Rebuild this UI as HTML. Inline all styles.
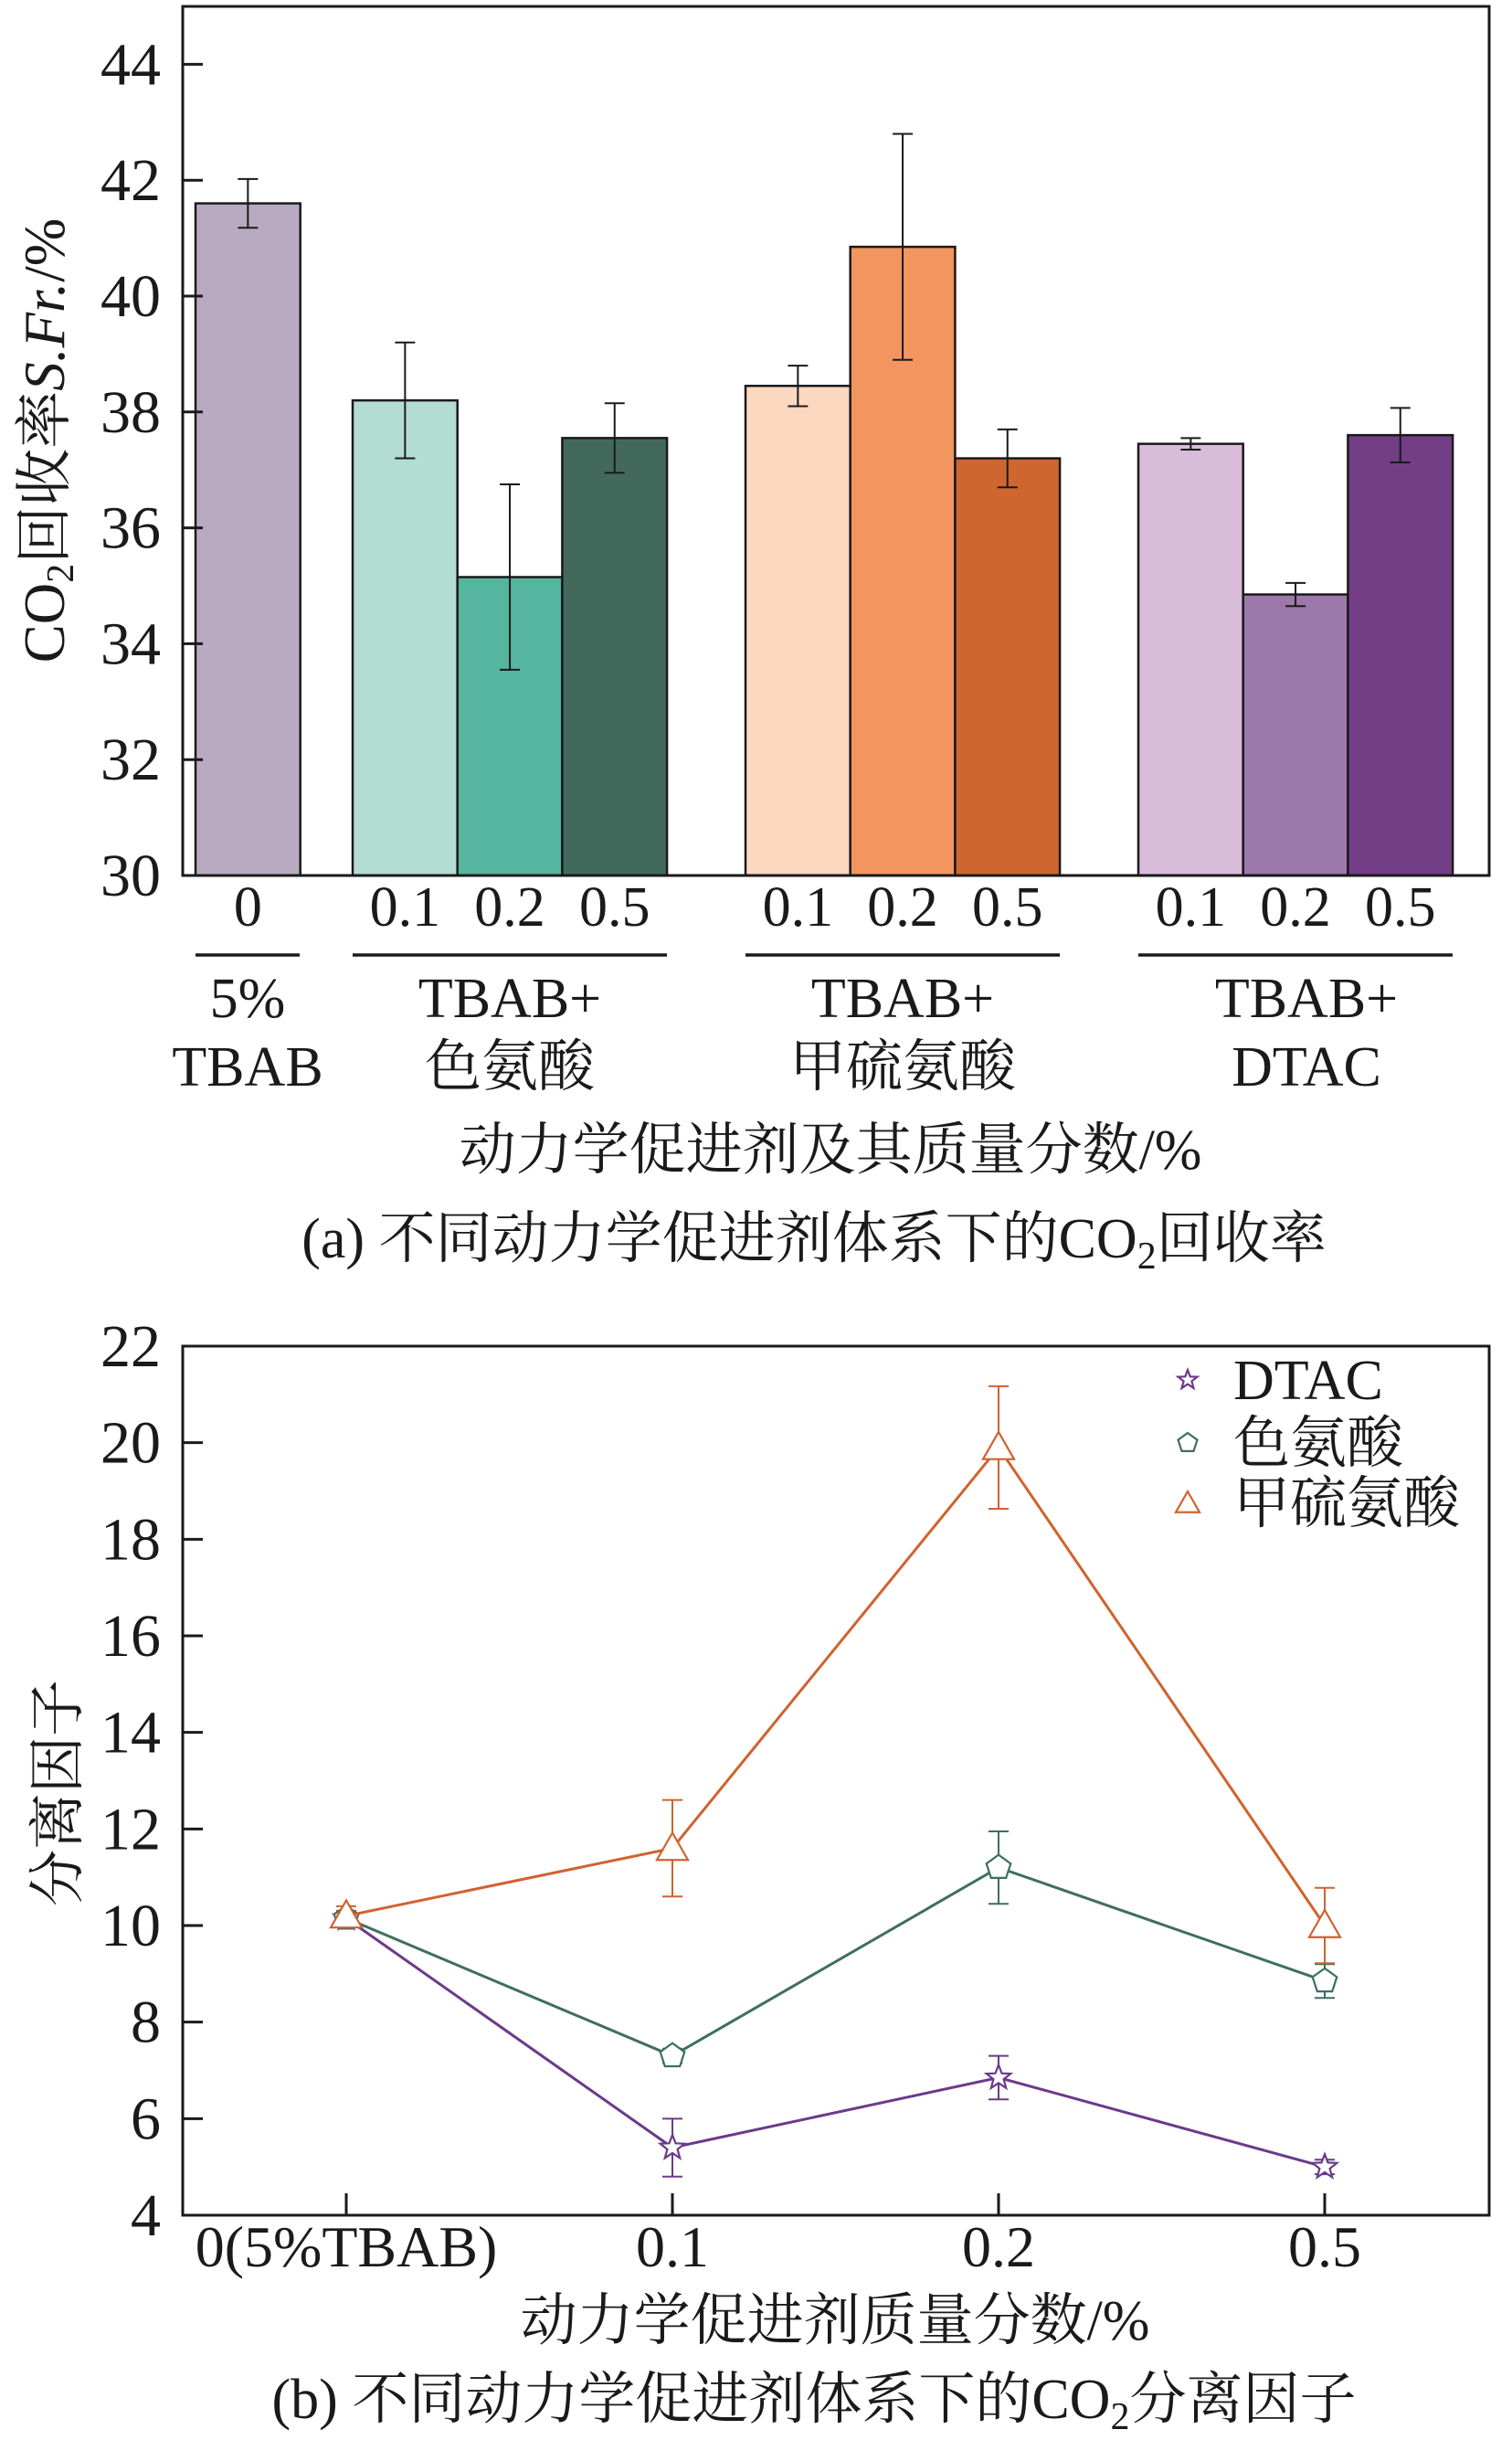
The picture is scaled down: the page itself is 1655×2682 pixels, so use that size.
<!DOCTYPE html>
<html><head><meta charset="utf-8"><style>
html,body{margin:0;padding:0;background:#fff}
svg{display:block}
text{font-family:"Liberation Serif","Noto Serif CJK SC","Noto Sans CJK SC",serif;fill:#1a1a1a}
</style></head><body>
<svg id="fig" width="1655" height="2682" viewBox="0 0 1655 2682" xmlns="http://www.w3.org/2000/svg">
<g id="chartA"></g>
<g id="chartB"></g>
</svg>
<script>
// ---- Chart (a) data ----
const barLabels = ["0","0.1","0.2","0.5","0.1","0.2","0.5","0.1","0.2","0.5"];
const barValues = [41.6,38.2,35.15,37.55,38.45,40.85,37.2,37.45,34.85,37.6];
const barErrors = [0.42,1.0,1.6,0.6,0.35,1.95,0.5,0.1,0.2,0.47];
const barColors = ["#b8abc1","#b3dcd2","#55b59f","#43695d","#fdd8c0","#f2955f","#cf6630","#d8bcd9","#9d78ab","#733e86"];
const aTicks = [30,32,34,36,38,40,42,44];
// ---- Chart (b) data ----
const bCats = ["0(5%TBAB)","0.1","0.2","0.5"];
const dtacVals = [10.15,5.4,6.85,5.0];
const dtacErr = [0.15,0.6,0.45,0.15];
const trpVals = [10.15,7.3,11.2,8.85];
const trpErr = [0.15,0.15,0.75,0.35];
const sulVals = [10.2,11.6,19.9,10.0];
const sulErr = [0.2,1.0,1.27,0.78];
const bTicks = [4,6,8,10,12,14,16,18,20,22];

const NS="http://www.w3.org/2000/svg";
function mk(parent,tag,attrs,txt){const e=document.createElementNS(NS,tag);for(const k in attrs)e.setAttribute(k,attrs[k]);if(txt!==undefined)e.textContent=txt;parent.appendChild(e);return e;}

// ===== Chart A =====
const A=document.getElementById('chartA');
const aL=200,aR=1630,aT=7,aB=958,aMin=30,aMax=45;
const ay=v=>aB-(v-aMin)/(aMax-aMin)*(aB-aT);
const barW=114.7;
const barX=[214,386,500.7,615.4,816,930.7,1045.4,1246,1360.7,1475.4];
barValues.forEach((v,i)=>{
  const r=mk(A,'rect',{x:barX[i],y:ay(v),width:barW,height:aB-ay(v),fill:barColors[i],stroke:'#1a1a1a','stroke-width':2.5});
  
  
  const cx=barX[i]+barW/2,e=barErrors[i];
  const eb=mk(A,'path',{d:`M${cx},${ay(v+e)}V${ay(v-e)}M${cx-11},${ay(v+e)}h22M${cx-11},${ay(v-e)}h22`,stroke:'#1a1a1a','stroke-width':2,fill:'none'});
  
  
  const t=mk(A,'text',{x:cx,y:1013,'font-size':62,'text-anchor':'middle'},barLabels[i]);
  
  
});
mk(A,'rect',{x:aL,y:aT,width:aR-aL,height:aB-aT,fill:'none',stroke:'#1a1a1a','stroke-width':3,});
aTicks.forEach(v=>{
  mk(A,'line',{x1:aL,x2:aL+22,y1:ay(v),y2:ay(v),stroke:'#1a1a1a','stroke-width':3});
  const t=mk(A,'text',{x:176,y:ay(v)+22,'font-size':66,'text-anchor':'end'},v);
  
  
});
const groups=[[214,328,["5%","TBAB"]],[386,730,["TBAB+","色氨酸"]],[816,1160,["TBAB+","甲硫氨酸"]],[1246,1590,["TBAB+","DTAC"]]];
groups.forEach((g,i)=>{
  mk(A,'line',{x1:g[0],x2:g[1],y1:1045,y2:1045,stroke:'#1a1a1a','stroke-width':3.5,});
  const cx=(g[0]+g[1])/2+(i==3?12:0);
  mk(A,'text',{x:cx,y:1113,'font-size':62,'text-anchor':'middle',},g[2][0]);
  mk(A,'text',{x:cx,y:1188,'font-size':62,'text-anchor':'middle',},g[2][1]);
});
mk(A,'text',{x:909,y:1279,'font-size':62,'text-anchor':'middle',},'动力学促进剂及其质量分数/%');
const capA=mk(A,'text',{x:891,y:1376,'font-size':62,'text-anchor':'middle',});
capA.innerHTML='(a) 不同动力学促进剂体系下的CO<tspan font-size="42" dy="12">2</tspan><tspan dy="-12">回收率</tspan>';
const yA=mk(A,'text',{transform:'translate(70,482) rotate(-90)','font-size':63,'text-anchor':'middle',});
yA.innerHTML='CO<tspan font-size="42" dy="10">2</tspan><tspan dy="-10">回收率</tspan><tspan font-style="italic">S.Fr.</tspan>/%';

// ===== Chart B =====
const B=document.getElementById('chartB');
const bL=200,bR=1630,bT=1473,bB=2424,bMin=4,bMax=22;
const by=v=>bB-(v-bMin)/(bMax-bMin)*(bB-bT);
const bxPos=[379,736,1093,1450];
const bx=i=>bxPos[i];
mk(B,'rect',{x:bL,y:bT,width:bR-bL,height:bB-bT,fill:'none',stroke:'#1a1a1a','stroke-width':3,});
bTicks.forEach(v=>{
  mk(B,'line',{x1:bL,x2:bL+22,y1:by(v),y2:by(v),stroke:'#1a1a1a','stroke-width':3});
  const t=mk(B,'text',{x:176,y:by(v)+22,'font-size':66,'text-anchor':'end'},v);
  
  
});
bCats.forEach((c,i)=>{
  mk(B,'line',{x1:bx(i),x2:bx(i),y1:bB,y2:bB-24,stroke:'#1a1a1a','stroke-width':3});
  const t=mk(B,'text',{x:bx(i),y:2480,'font-size':64,'text-anchor':'middle'},c);
  
  
});
function marker(g,kind,x,y,col,s){
  if(kind==='star'){let p='';for(let k=0;k<10;k++){const r=k%2?s*0.42:s;const a=-Math.PI/2+k*Math.PI/5;p+=(k?'L':'M')+(x+r*Math.cos(a)).toFixed(1)+','+(y+r*Math.sin(a)).toFixed(1);}return mk(g,'path',{d:p+'Z',fill:'#fff',stroke:col,'stroke-width':2.2});}
  if(kind==='pent'){let p='';for(let k=0;k<5;k++){const a=-Math.PI/2+k*2*Math.PI/5;p+=(k?'L':'M')+(x+s*Math.cos(a)).toFixed(1)+','+(y+s*Math.sin(a)).toFixed(1);}return mk(g,'path',{d:p+'Z',fill:'#fff',stroke:col,'stroke-width':2.2});}
  return mk(g,'path',{d:`M${x},${y-s}L${x+s*1.0},${y+s*0.75}L${x-s*1.0},${y+s*0.75}Z`,fill:'#fff',stroke:col,'stroke-width':2.2});
}
const series=[['dtac',dtacVals,dtacErr,'#6b3a8a','star',14],['tryptophan',trpVals,trpErr,'#3f6e62','pent',14],['sulfamic',sulVals,sulErr,'#d0622f','tri',17]];
series.forEach(s=>{
  const g=mk(B,'g',{});
  
  
  const d=s[1].map((v,i)=>(i?'L':'M')+bx(i)+','+by(v)).join('');
  mk(g,'path',{d:d,fill:'none',stroke:s[3],'stroke-width':3});
  s[1].forEach((v,i)=>{
    const e=s[2][i],x=bx(i);
    const eb=mk(g,'path',{d:`M${x},${by(v+e)}V${by(v-e)}M${x-11},${by(v+e)}h22M${x-11},${by(v-e)}h22`,stroke:s[3],'stroke-width':2,fill:'none'});
    
    
    const m=marker(g,s[4],x,by(v),s[3],s[5]);
    
    
  });
});
const leg=mk(B,'g',{});
const legItems=[['DTAC','star','#6b3a8a',1510],['色氨酸','pent','#3f6e62',1579],['甲硫氨酸','tri','#d0622f',1645]];
legItems.forEach(it=>{
  marker(leg,it[1],1300,it[3],it[2],it[1]==='tri'?13:11);
  mk(leg,'text',{x:1350,y:it[3]+21,'font-size':62,},it[0]);
});
mk(B,'text',{x:914,y:2560,'font-size':62,'text-anchor':'middle',},'动力学促进剂质量分数/%');
const capB=mk(B,'text',{x:891,y:2646,'font-size':62,'text-anchor':'middle',});
capB.innerHTML='(b) 不同动力学促进剂体系下的CO<tspan font-size="42" dy="12">2</tspan><tspan dy="-12">分离因子</tspan>';
mk(B,'text',{transform:'translate(84,1962) rotate(-90)','font-size':62,'text-anchor':'middle',},'分离因子');
</script>
</body></html>
